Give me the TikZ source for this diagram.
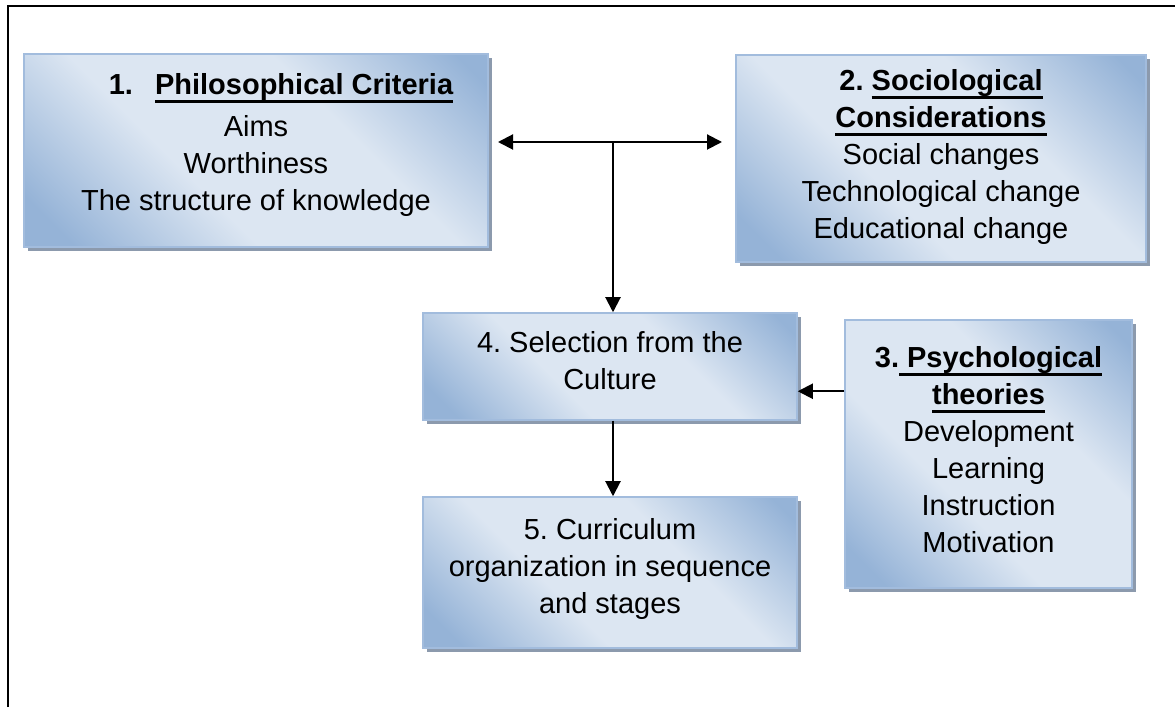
\documentclass[tikz,border=0pt]{standalone}
\usepackage{fontspec}
\setmainfont{Liberation Sans}
\usetikzlibrary{arrows.meta, shadows}
\definecolor{cbdark}{HTML}{95B3D7}
\definecolor{cblight}{HTML}{DCE6F2}
\definecolor{cbedge}{HTML}{A2BCDD}
\definecolor{cbshadow}{HTML}{8C9AAD}
\pgfdeclareverticalshading{cardshade}{100bp}{color(0bp)=(cbdark); color(20bp)=(cbdark);
  color(40bp)=(cblight); color(62bp)=(cblight); color(82bp)=(cbdark); color(100bp)=(cbdark)}
% underlined heading words
\newcommand{\uln}[1]{\leavevmode\setbox0\hbox{#1}\rlap{\rule[-8.5pt]{\wd0}{3pt}}\box0}
\frenchspacing

\begin{document}
\begin{tikzpicture}[x=1pt, y=1pt,
    font=\fontsize{29}{37}\selectfont,
    card/.style={rectangle, draw=cbedge, line width=1.5pt, align=center, inner sep=0pt,
      shading=cardshade, shading angle=-45,
      drop shadow={shadow xshift=4pt, shadow yshift=-4pt, fill=cbshadow, opacity=1}},
    arr/.style={line width=2pt},
    >={Triangle[length=15pt, width=15pt]}]
  \useasboundingbox (0,0) rectangle (1175,707);
  \draw[line width=2.5pt] (8,0) -- (8,701) -- (1175,701);
  % the five boxes
  \node[card, minimum width=464pt, minimum height=193pt, text depth=17pt] (phil) at (256,556.5)
    {\hspace*{50pt}\textbf{1.}\hspace{22pt}\textbf{\uln{Philosophical Criteria}}\\[5pt]
     Aims\\ Worthiness\\ The structure of knowledge};
  \node[card, minimum width=410pt, minimum height=207pt, text depth=10pt] (socio) at (941,548.5)
    {\textbf{2. \uln{Sociological}}\\ \textbf{\uln{Considerations}}\\
     Social changes\\ Technological change\\ Educational change};
  \node[card, minimum width=287pt, minimum height=268pt, text depth=10pt] (psych) at (988.5,253)
    {\textbf{3.\uln{\ Psychological}}\\ \textbf{\uln{theories}}\\
     Development\\ Learning\\ Instruction\\ Motivation};
  \node[card, minimum width=374pt, minimum height=107pt, text depth=12pt] (sel) at (610,340.5)
    {4. Selection from the\\ Culture};
  \node[card, minimum width=374pt, minimum height=151pt, text depth=14pt] (curr) at (610,134.5)
    {5. Curriculum\\ organization in sequence\\ and stages};
  % connectors
  \coordinate (hub) at (613,565);
  \coordinate (hl) at (498,565);
  \coordinate (hr) at (722,565);
  \coordinate (pin) at ([yshift=-72pt]psych.north west);
  \draw[arr, <->] (hl) -- (hr);
  \draw[arr, ->] (hub) -- (hub |- sel.north);
  \draw[arr, ->] (pin) -- (pin -| sel.east);
  \draw[arr, ->] (hub |- sel.south) -- (hub |- curr.north);
\end{tikzpicture}
\end{document}
